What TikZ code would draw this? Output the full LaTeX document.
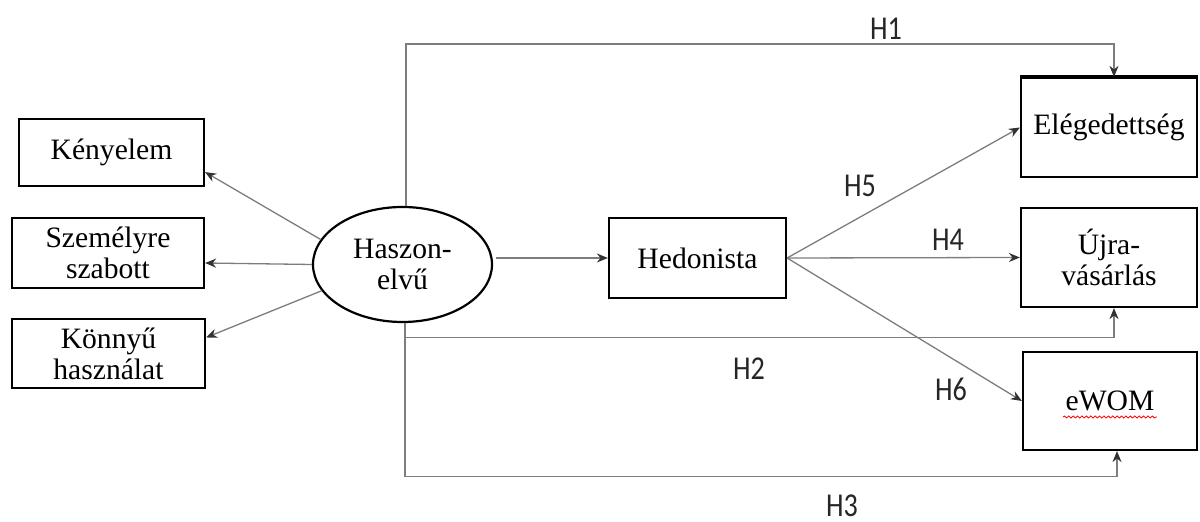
\documentclass[tikz,border=0pt]{standalone}
\usepackage{fontspec}
\setmainfont{Liberation Serif}
\newfontfamily\hfont{Carlito}
\usetikzlibrary{arrows.meta,shapes.geometric,calc,decorations.pathmorphing}
\definecolor{lc}{RGB}{125,125,125}
\definecolor{tipc}{RGB}{50,50,50}
\newcommand{\hl}[1]{\scalebox{0.97}[1.15]{#1}}
\tikzset{
  boxn/.style={draw=black,line width=1.1pt,fill=white,inner sep=2pt,align=center,
     font=\fontsize{14.8pt}{16.5pt}\selectfont},
  ell/.style={draw=black,line width=1.1pt,ellipse,inner sep=0pt,align=center,
     minimum width=89.5pt,minimum height=57.5pt,font=\fontsize{14.8pt}{16.5pt}\selectfont},
  conn/.style={draw=lc,line width=0.65pt,-{Stealth[length=5.5pt,width=4.5pt,color=tipc]}},
  hlab/.style={font=\hfont\fontsize{14.5pt}{16pt}\selectfont,inner sep=0pt,text=black!85}
}
\begin{document}
\begin{tikzpicture}[x=0.5pt,y=-0.5pt]
\useasboundingbox (0,0) rectangle (1200,522);
% nodes
\node[boxn,minimum width=92.5pt,minimum height=33.5pt] (ken) at (111.5,152.5) {Kényelem};
\node[boxn,minimum width=96pt,minimum height=35pt] (szem) at (108,253) {Személyre\\[-1pt]szabott};
\node[boxn,minimum width=96.5pt,minimum height=34.5pt] (konn) at (108.5,353.5) {Könnyű\\[-1pt]használat};
\node[ell] (hasz) at (402.5,264.5) {Haszon-\\[-1pt]elvű};
\node[boxn,minimum width=88.5pt,minimum height=40pt] (hed) at (697.5,258) {Hedonista};
\node[boxn,minimum width=88pt,minimum height=49.5pt] (ele) at (1109,127.5) {Elégedettség};
\node[boxn,minimum width=88pt,minimum height=49.5pt] (ura) at (1109,257.5) {Újra-\\[-1pt]vásárlás};
\node[boxn,minimum width=87pt,minimum height=49pt] (ewom) at (1110,401) {eWOM};
\draw[black,line width=1.6pt] (ele.north west) -- (ele.north east);
\draw[red,line width=0.4pt,decorate,decoration={snake,amplitude=0.5pt,segment length=2.2pt}]
  ([xshift=-23.5pt,yshift=-8pt]ewom.center) -- ([xshift=23.5pt,yshift=-8pt]ewom.center);
% helper coordinates
\coordinate (yH1) at (0,44);
\coordinate (yH2) at (0,337.5);
\coordinate (yH3) at (0,476.5);
% left arrows
\draw[conn] (hasz.163) -- ($(ken.south east)+(0,-15)$);
\draw[conn] (hasz.180) -- ($(szem.east)+(0,10)$);
\draw[conn] (hasz.198) -- ($(konn.east)+(0,-16)$);
% to hedonista
\draw[conn] ([xshift=1.5pt]hasz.east |- hed.west) -- (hed.west);
% hedonista to outcomes
\draw[conn] (hed.east) -- (ele.west);
\draw[conn] (hed.east) -- (ura.west);
\draw[conn] (hed.east) -- (ewom.west);
% H1, H2, H3 elbows
\draw[conn] ([xshift=1.8pt]hasz.north) -- ([xshift=1.8pt]hasz.north |- yH1) -| ([xshift=2.5pt]ele.north);
\draw[conn] ([xshift=1.3pt]hasz.south) -- ([xshift=1.3pt]hasz.south |- yH2) -| ([xshift=2.5pt]ura.south);
\draw[conn] ([xshift=1.3pt]hasz.south) -- ([xshift=1.3pt]hasz.south |- yH3) -| ([xshift=3.5pt]ewom.south);
% labels
\node[hlab] (l1) at (886,29) {\hl{H1}};
\node[hlab] (l5) at (860,186) {\hl{H5}};
\node[hlab] (l4) at (948,240) {\hl{H4}};
\node[hlab] (l2) at (749,369) {\hl{H2}};
\node[hlab] (l6) at (951,389) {\hl{H6}};
\node[hlab] (l3) at (842,506) {\hl{H3}};
\end{tikzpicture}
\end{document}
